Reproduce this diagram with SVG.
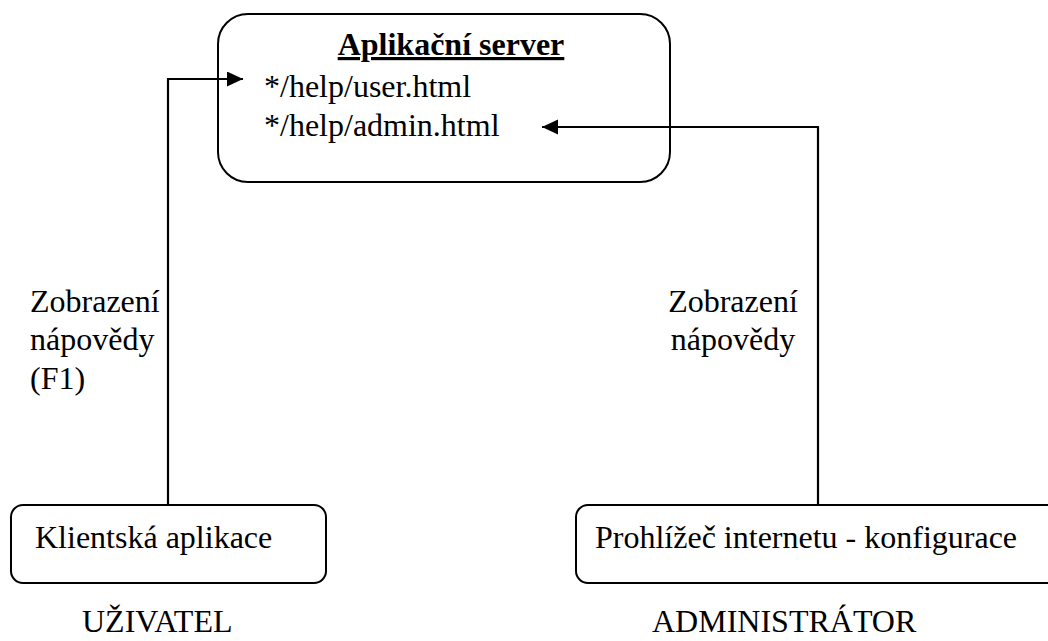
<svg xmlns="http://www.w3.org/2000/svg" width="1048" height="641" viewBox="0 0 1048 641">
<style>
.box{fill:#fff;stroke:#000;stroke-width:2}
.t{font-family:"Liberation Serif","Times New Roman",serif;font-size:32px;fill:#000}
.b{font-weight:bold;text-decoration:underline}
.c{fill:none;stroke:#000;stroke-width:2.2}
</style>
<defs>
<marker id="ah" markerUnits="userSpaceOnUse" markerWidth="18" markerHeight="16" refX="16" refY="7.5" orient="auto">
<path d="M0,0 L16,7.5 L0,15 Z" fill="#000"/>
</marker>
</defs>
<rect width="1048" height="641" fill="#fff"/>
<g id="server">
<rect class="box" x="218" y="14" width="452" height="168" rx="30"/>
<text class="t b" x="451" y="55" text-anchor="middle">Aplikační server</text>
<text class="t" x="264" y="97">*/help/user.html</text>
<text class="t" x="264" y="136">*/help/admin.html</text>
</g>
<g id="client">
<rect class="box" x="11" y="505" width="315" height="78" rx="12"/>
<text class="t" x="35" y="548">Klientská aplikace</text>
</g>
<g id="browser">
<rect class="box" x="576" y="505" width="490" height="78" rx="12"/>
<text class="t" x="595" y="548">Prohlížeč internetu - konfigurace</text>
</g>
<g id="labels">
<text class="t" x="30" y="312">Zobrazení</text>
<text class="t" x="30" y="350">nápovědy</text>
<text class="t" x="30" y="389">(F1)</text>
<text class="t" x="733" y="312" text-anchor="middle">Zobrazení</text>
<text class="t" x="733" y="350" text-anchor="middle">nápovědy</text>
<text class="t" x="82" y="632">UŽIVATEL</text>
<text class="t" x="652" y="632">ADMINISTRÁTOR</text>
</g>
<g id="connectors">
<path class="c" d="M168,505 V79 H243" marker-end="url(#ah)"/>
<path class="c" d="M818,505 V127 H542" marker-end="url(#ah)"/>
</g>
</svg>
